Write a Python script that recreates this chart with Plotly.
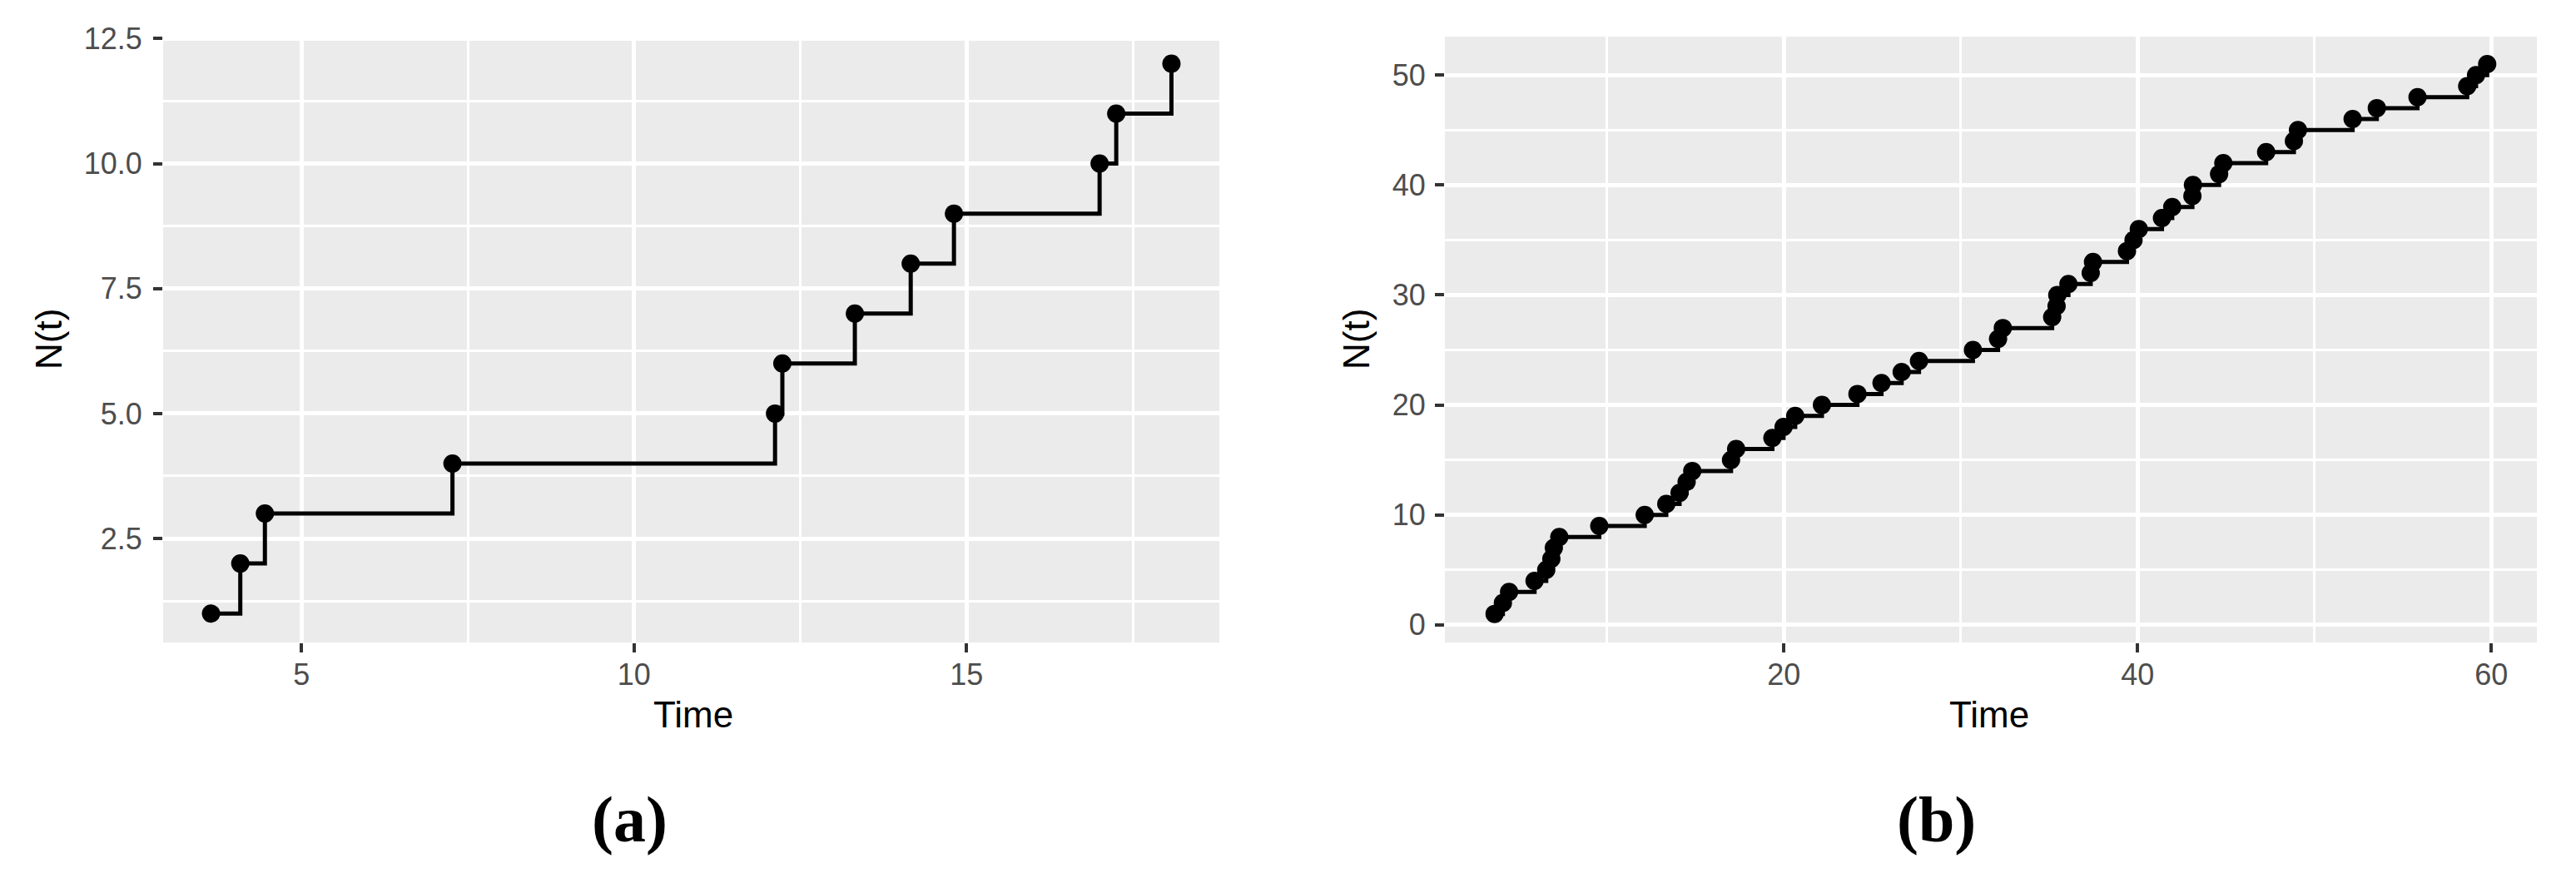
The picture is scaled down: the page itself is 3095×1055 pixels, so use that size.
"""
Zählprozess N(t) als Treppenfunktion, zwei Panels nebeneinander (ggplot-Look).
"""

import plotly.graph_objects as go

# Panel (a): Ereigniszeiten und Zählerstand
zeiten_a = [3.64, 4.08, 4.45, 7.27, 12.12, 12.23, 13.32, 14.16, 14.81, 17.00, 17.25, 18.08]
zaehler_a = [1, 2, 3, 4, 5, 6, 7, 8, 9, 10, 11, 12]

# Panel (b)
zeiten_b = [3.64, 4.11, 4.46, 5.90, 6.56, 6.85, 6.99, 7.30, 9.56, 12.13,
            13.35, 14.10, 14.50, 14.82, 17.01, 17.30, 19.35, 19.98, 20.64, 22.15,
            24.16, 25.52, 26.66, 27.64, 30.69, 32.11, 32.38, 35.17, 35.42, 35.46,
            36.09, 37.35, 37.48, 39.40, 39.77, 40.07, 41.38, 41.96, 43.10, 43.13,
            44.61, 44.85, 47.27, 48.84, 49.07, 52.16, 53.53, 55.83, 58.64, 59.14,
            59.77]
zaehler_b = [1, 2, 3, 4, 5, 6, 7, 8, 9, 10,
             11, 12, 13, 14, 15, 16, 17, 18, 19, 20,
             21, 22, 23, 24, 25, 26, 27, 28, 29, 30,
             31, 32, 33, 34, 35, 36, 37, 38, 39, 40,
             41, 42, 43, 44, 45, 46, 47, 48, 49, 50,
             51]

PANEL_LABELS = ["(a)", "(b)"]
ACHSE_X = "Time"
ACHSE_Y = "N(t)"

# Fenster 3095x1055, Body hat 8px Rand -> Figur etwas kleiner
W, H = 3095, 1055
RAND = 8
FW, FH = W - 2 * RAND, H - 2 * RAND
BG = "#EBEBEB"
TICKFARBE = "#4D4D4D"
FONT = "Liberation Sans, Arial, sans-serif"

# Pixelgrenzen der Panels (Bildschirmkoordinaten)
PANEL_A = (196, 1465)
PANEL_B = (1736, 3048)
OBEN, UNTEN = 44, 772
# Abstand des y-Titels vom Panelrand, Mitte der Achsentitel / Panel-Labels
YTITEL_ABSTAND = [137, 106]
XTITEL_MITTE = [833, 2390]
LABEL_MITTE = [756, 2326]


def sx(px):
    return (px - RAND) / FW


def sy(py):
    return 1 - (py - RAND) / FH


def _achse(rng, dtick, minor_dtick, domain, anchor, standoff):
    return dict(
        range=rng, domain=domain, anchor=anchor,
        tickmode="linear", tick0=0, dtick=dtick,
        ticks="outside", ticklen=11, tickwidth=4, tickcolor="#333333",
        tickfont=dict(size=36, color=TICKFARBE, family=FONT),
        ticklabelstandoff=standoff,
        showgrid=True, gridcolor="white", gridwidth=5,
        minor=dict(dtick=minor_dtick, tick0=0, showgrid=True,
                   gridcolor="white", gridwidth=2.5, ticks=""),
        zeroline=False, showline=False, automargin=False,
    )


fig = go.Figure()
for zeiten, zaehler, xa, ya in [(zeiten_a, zaehler_a, "x", "y"),
                                (zeiten_b, zaehler_b, "x2", "y2")]:
    fig.add_trace(go.Scatter(
        x=zeiten, y=zaehler, xaxis=xa, yaxis=ya,
        mode="lines+markers", line=dict(color="black", width=5, shape="hv"),
        marker=dict(color="black", size=22), showlegend=False,
    ))

ydom = [sy(UNTEN), sy(OBEN)]
fig.update_layout(
    width=FW, height=FH,
    margin=dict(l=0, r=0, t=0, b=0),
    paper_bgcolor="white", plot_bgcolor=BG,
    font=dict(family=FONT),
    xaxis=_achse([2.92, 18.80], 5, 2.5, [sx(PANEL_A[0]), sx(PANEL_A[1])], "y", -4),
    yaxis=_achse([0.42, 12.54], 2.5, 1.25, ydom, "x", 6),
    xaxis2=_achse([0.83, 62.58], 20, 10, [sx(PANEL_B[0]), sx(PANEL_B[1])], "y2", -4),
    yaxis2=_achse([-1.6, 53.5], 10, 5, ydom, "x2", 4),
)
fig.update_layout(yaxis_tickformat=".1f")

# Achsentitel und Panel-Beschriftungen
for i, (x0, x1) in enumerate([PANEL_A, PANEL_B]):
    fig.add_annotation(text=ACHSE_X, x=sx(XTITEL_MITTE[i]), y=sy(858),
                       xref="paper", yref="paper", xanchor="center", yanchor="middle",
                       showarrow=False, font=dict(size=44, color="black", family=FONT))
    fig.add_annotation(text=ACHSE_Y, x=sx(x0 - YTITEL_ABSTAND[i]), y=sy((OBEN + UNTEN) / 2),
                       xref="paper", yref="paper", xanchor="center", yanchor="middle",
                       textangle=-90, showarrow=False,
                       font=dict(size=44, color="black", family=FONT))
    fig.add_annotation(text=f"<b>{PANEL_LABELS[i]}</b>", x=sx(LABEL_MITTE[i]), y=sy(984),
                       xref="paper", yref="paper", xanchor="center", yanchor="middle",
                       showarrow=False,
                       font=dict(size=78, color="black", family="Liberation Serif, serif"))

fig.write_html("out.html")
